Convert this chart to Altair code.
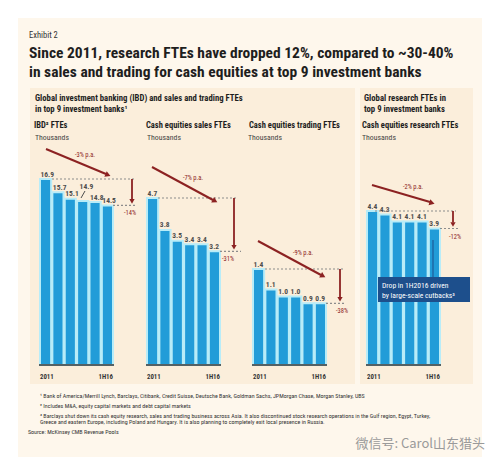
import math
import altair as alt
import pandas as pd

# ---------------- data ----------------
periods = ["2011", "2012", "2013", "2014", "2015", "1H16"]
ibd_fte = [16.9, 15.7, 15.1, 14.9, 14.8, 14.5]
sales_fte = [4.7, 3.8, 3.5, 3.4, 3.4, 3.2]
trading_fte = [1.4, 1.1, 1.0, 1.0, 0.9, 0.9]
research_fte = [4.4, 4.3, 4.1, 4.1, 4.1, 3.9]

cagr_labels = ["-3% p.a.", "-7% p.a.", "-9% p.a.", "-2% p.a."]
total_change = ["-14%", "-31%", "-38%", "-12%"]
panel_titles = ["IBD² FTEs", "Cash equities sales FTEs",
                "Cash equities trading FTEs", "Cash equities research FTEs"]
unit_label = "Thousands"

title_lines = ["Since 2011, research FTEs have dropped 12%, compared to ~30-40%",
               "in sales and trading for cash equities at top 9 investment banks"]
group_left = ["Global investment banking (IBD) and sales and trading FTEs",
              "in top 9 investment banks¹"]
group_right = ["Global research FTEs in", "top 9 investment banks"]
callout = ["Drop in 1H2016 driven", "by large-scale cutbacks³"]
footnotes = [
    "¹ Bank of America/Merrill Lynch, Barclays, Citibank, Credit Suisse, Deutsche Bank, Goldman Sachs, JPMorgan Chase, Morgan Stanley, UBS",
    "² Includes M&A, equity capital markets and debt capital markets",
    "³ Barclays shut down its cash equity research, sales and trading business across Asia. It also discontinued stock research operations in the Gulf region, Egypt, Turkey,",
    "   Greece and eastern Europe, including Poland and Hungary. It is also planning to completely exit local presence in Russia.",
]
source = "Source: McKinsey CMB Revenue Pools"
watermark = "微信号: Carol山东猎头"

# ---------------- styling / layout ----------------
OFF = 8
FONT = "Liberation Sans Narrow, Arial Narrow, Roboto Condensed, Liberation Sans, sans-serif"
CJK = "Noto Sans CJK SC"
BLUE = "#229CD8"
CYAN = "#B8ECF8"
RED = "#8C2222"
GREY = "#8C8C8C"
INK = "#1E1E1E"
LABEL = "#4D4D4D"
OUTER_BG = "#FEF7EC"
PANEL_BG = "#FBEEDB"
NAVY = "#1D4F8C"
BASE = 365

ONE = pd.DataFrame({"k": [0]})


def P(v):
    return v - OFF


def text(t, x, y, size, weight="normal", color=INK, align="left", font=FONT):
    return alt.Chart(ONE).mark_text(
        text=t, align=align, baseline="alphabetic", fontSize=size,
        fontWeight=weight, color=color, font=font
    ).encode(x=alt.value(P(x)), y=alt.value(P(y)))


def rect(x0, y0, x1, y1, color):
    return alt.Chart(ONE).mark_rect(color=color).encode(
        x=alt.value(P(x0)), x2=alt.value(P(x1)),
        y=alt.value(P(y0)), y2=alt.value(P(y1)))


def seg(x0, y0, x1, y1, color, width, dash=None):
    kw = dict(color=color, strokeWidth=width)
    if dash:
        kw["strokeDash"] = dash
    return alt.Chart(ONE).mark_rule(**kw).encode(
        x=alt.value(P(x0)), y=alt.value(P(y0)),
        x2=alt.value(P(x1)), y2=alt.value(P(y1)))


geoms = [
    dict(x0=40, x1=113, top=179, arr_x=132, d1=(52, 134), d2=(113, 136), pct_x=130,
         diag=((46, 149), (108, 175)), pa=(85, 157), raised="2014"),
    dict(x0=147, x1=220, top=198, arr_x=234, d1=(158, 238), d2=(220, 241), pct_x=228,
         diag=((152, 167), (215, 201)), pa=(193, 180)),
    dict(x0=253, x1=326, top=269, arr_x=340, d1=(265, 343), d2=(326, 345), pct_x=342,
         diag=((258, 241), (323, 276)), pa=(303, 255)),
    dict(x0=367, x1=440, top=211, arr_x=453, d1=(375, 456), d2=(440, 459), pct_x=455,
         diag=((372, 185), (432, 203)), pa=(413, 189)),
]
series = [ibd_fte, sales_fte, trading_fte, research_fte]


def panel(vals, i, g):
    df = pd.DataFrame({"period": periods, "value": vals})
    xs = alt.Scale(domain=periods, range=[P(g["x0"]), P(g["x1"])],
                   paddingInner=0.1, paddingOuter=0)
    ys = alt.Scale(domain=[0, max(vals)], range=[P(BASE), P(g["top"])],
                   nice=False, zero=True)

    def X(bp=None):
        if bp is None:
            return alt.X("period:N", scale=xs, axis=None)
        return alt.X("period:N", scale=xs, axis=None, bandPosition=bp)

    Y = alt.Y("value:Q", scale=ys, axis=None)
    base = alt.Chart(df)
    layers = [
        base.mark_bar(color=BLUE, stroke=CYAN, strokeWidth=2).encode(x=X(), y=Y),
        seg(g["x0"] - 1, BASE, g["x1"] + 1, BASE, "#333333", 1.3),
    ]
    lab_kw = dict(align="left", baseline="alphabetic", fontSize=7.5, fontWeight="bold",
                  color=LABEL, font=FONT)
    raised = g.get("raised")
    lab = base.mark_text(dx=0.5, dy=-2.5, **lab_kw).encode(
        x=X(0), y=Y, text=alt.Text("value:Q", format=".1f"))
    if raised:
        layers.append(lab.transform_filter(alt.datum.period != raised))
        layers.append(base.transform_filter(alt.datum.period == raised)
                      .mark_text(dx=2.5, dy=-12.5, **lab_kw)
                      .encode(x=X(0), y=Y, text=alt.Text("value:Q", format=".1f")))
        layers.append(seg(81, 198, 85, 191, LABEL, 1))
    else:
        layers.append(lab)

    yr_kw = dict(baseline="alphabetic", fontSize=6.8, fontWeight="bold", color="#333333", font=FONT)
    layers.append(base.transform_filter(alt.datum.period == periods[0])
                  .mark_text(align="left", **yr_kw)
                  .encode(x=X(0), y=alt.value(P(379)), text="period:N"))
    layers.append(base.transform_filter(alt.datum.period == periods[-1])
                  .mark_text(align="right", **yr_kw)
                  .encode(x=X(1), y=alt.value(P(379)), text="period:N"))

    ann = pd.DataFrame({"first": [vals[0]], "last": [vals[-1]],
                        "pct": [total_change[i]], "pa": [cagr_labels[i]]})
    a = alt.Chart(ann)
    Yf = alt.Y("first:Q", scale=ys, axis=None)
    Yl = alt.Y("last:Q", scale=ys, axis=None)
    layers += [
        a.mark_rule(color=GREY, strokeDash=[2, 2], strokeWidth=1.2).encode(
            x=alt.value(P(g["d1"][0])), x2=alt.value(P(g["d1"][1])), y=Yf),
        a.mark_rule(color=GREY, strokeDash=[2, 2], strokeWidth=1.2).encode(
            x=alt.value(P(g["d2"][0])), x2=alt.value(P(g["d2"][1])), y=Yl),
        a.mark_rule(color=RED, strokeWidth=1.8, y2Offset=-6).encode(
            x=alt.value(P(g["arr_x"])), y=Yf, y2=alt.Y2("last:Q")),
        a.mark_point(shape="triangle-down", filled=True, size=28, yOffset=-4,
                     color=RED, opacity=1).encode(x=alt.value(P(g["arr_x"])), y=Yl),
        a.mark_text(align="center", baseline="middle", dy=8, fontSize=6.5,
                    color=RED, font=FONT).encode(
            x=alt.value(P(g["pct_x"])), y=Yl, text="pct:N"),
    ]
    (sx, sy), (ex, ey) = g["diag"]
    ang = math.degrees(math.atan2(ey - sy, ex - sx))
    layers += [
        seg(sx, sy, ex - 2, ey - 1, RED, 2),
        alt.Chart(ONE).mark_point(shape="triangle-right", filled=True, size=38, angle=ang,
                                  color=RED, opacity=1).encode(
            x=alt.value(P(ex)), y=alt.value(P(ey))),
        a.mark_text(align="center", baseline="alphabetic", fontSize=6.5, color=RED,
                    font=FONT).encode(x=alt.value(P(g["pa"][0])), y=alt.value(P(g["pa"][1])),
                                      text="pa:N"),
    ]
    return alt.layer(*layers)


layers = [
    rect(18, 18, 482, 457, OUTER_BG),
    rect(30, 88, 355, 384, PANEL_BG),
    rect(360, 88, 473, 384, PANEL_BG),
    text("Exhibit 2", 29, 38, 8.5, color="#333333"),
    text(title_lines[0], 29, 58, 15.5, "bold"),
    text(title_lines[1], 29, 76.5, 15.5, "bold"),
    text(group_left[0], 35, 101, 8.7, "bold"),
    text(group_left[1], 35, 111.5, 8.7, "bold"),
    text(group_right[0], 364, 101, 8.7, "bold"),
    text(group_right[1], 364, 111.5, 8.7, "bold"),
]
for t, x in zip(panel_titles, [34, 146, 249, 362]):
    layers.append(text(t, x, 128, 8.5, "bold"))
for x in [35, 147, 248, 362]:
    layers.append(text(unit_label, x, 140, 7.8, color="#444444"))

for i, (vals, g) in enumerate(zip(series, geoms)):
    layers.append(panel(vals, i, g))

# call-out box on research panel
layers += [
    seg(433, 240, 433, 277, NAVY, 1),
    rect(378, 277, 470, 302, NAVY),
    text(callout[0], 382, 287.5, 7.6, color="white"),
    text(callout[1], 382, 298, 7.6, color="white"),
]

for t, y in zip(footnotes, [397.7, 408, 417.7, 424.2]):
    layers.append(text(t, 40, y, 6.0, color="#333333"))
layers.append(text(source, 28, 433.7, 6.0, color="#333333"))
layers.append(text(watermark, 485, 448, 13, color="#9A9A9A", align="right", font=CJK))

chart = alt.layer(*layers).resolve_scale(
    x="independent", y="independent"
).properties(
    width=484, height=449, padding=0,
    autosize=alt.AutoSizeParams(type="none"), background="white"
).configure_view(stroke=None)

chart.save("out.html", embed_options={"renderer": "svg", "actions": False})
